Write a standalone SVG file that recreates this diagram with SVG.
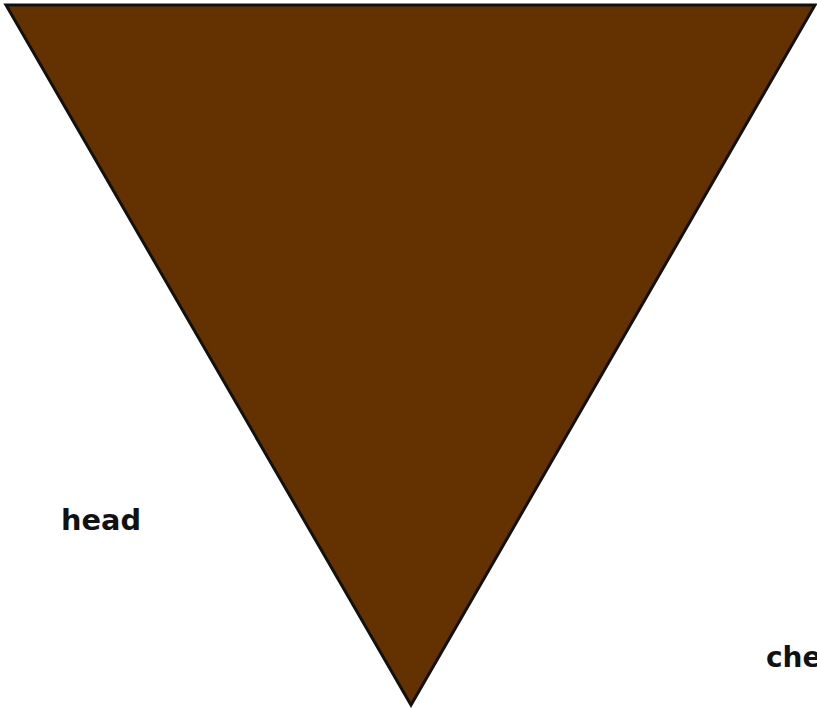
<svg xmlns="http://www.w3.org/2000/svg" width="817" height="709" viewBox="0 0 817 709">
<style>
.lbl{font-family:"DejaVu Sans","Liberation Sans",sans-serif;font-size:28px;font-weight:bold;fill:#111}
</style>
<rect width="817" height="709" fill="#fff"/>
<g id="triangle">
<polygon points="6,5 815,5 411,705" fill="#633200" stroke="#111" stroke-width="3" stroke-linejoin="miter"/>
</g>
<g id="connectors"/>
<g id="head"><text class="lbl" x="61" y="530" textLength="80" lengthAdjust="spacingAndGlyphs">head</text></g>
<g id="che"><text class="lbl" x="766" y="667">che</text></g>
</svg>
